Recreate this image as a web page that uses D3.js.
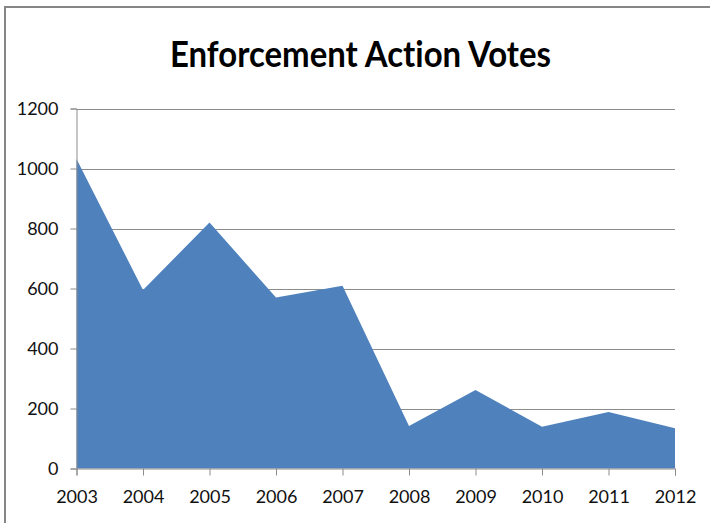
<!DOCTYPE html>
<html>
<head>
<meta charset="utf-8">
<script src="https://cdn.jsdelivr.net/npm/d3@7"></script>
<style>
  html, body { margin: 0; padding: 0; background: #fff; }
  svg { display: block; }
  text { font-variant-ligatures: none; font-feature-settings: "liga" 0; }
</style>
</head>
<body>
<script>
const years = ["2003","2004","2005","2006","2007","2008","2009","2010","2011","2012"];
const votes = [1032, 595, 820, 570, 609, 142, 262, 139, 188, 134];
const yTicks = [0, 200, 400, 600, 800, 1000, 1200];
const title = "Enforcement Action Votes";

const W = 710, H = 523;
const m = { left: 76.5, right: 675, top: 108.5, bottom: 468.5 };

const svg = d3.select("body").append("svg").attr("width", W).attr("height", H);

// outer chart border (only top & left visible)
svg.append("path")
  .attr("d", `M5,${H + 5} L5,7 L${W + 5},7`)
  .attr("fill", "none").attr("stroke", "#868686").attr("stroke-width", 2);

const x = d3.scalePoint().domain(years).range([m.left, m.right]);
const y = d3.scaleLinear().domain([0, 1200]).range([m.bottom, m.top]);

// gridlines
svg.append("g").selectAll("line").data(yTicks.filter(d => d > 0)).join("line")
  .attr("x1", m.left).attr("x2", m.right)
  .attr("y1", d => Math.round(y(d)) + 0.5).attr("y2", d => Math.round(y(d)) + 0.5)
  .attr("stroke", "#8c8c8c").attr("stroke-width", 1);

// area
const area = d3.area()
  .x((d, i) => x(years[i]))
  .y0(y(0)).y1(d => y(d));
svg.append("path").datum(votes).attr("d", area).attr("fill", "#4F81BD");

// y axis
const yAxis = d3.axisLeft(y).tickValues(yTicks).tickSize(6).tickPadding(12).tickFormat(d3.format("d"));
const gy = svg.append("g").attr("transform", `translate(${m.left},0)`).call(yAxis);
gy.select(".domain").attr("stroke", "#8c8c8c");
gy.selectAll(".tick line").attr("stroke", "#8c8c8c");
gy.selectAll(".tick text").attr("font-family", "Lato, 'Open Sans', sans-serif")
  .attr("font-size", 18).attr("fill", "#111");

// x axis
const xAxis = d3.axisBottom(x).tickSize(7).tickPadding(15);
const gx = svg.append("g").attr("transform", `translate(0,${m.bottom})`).call(xAxis);
gx.select(".domain").attr("stroke", "#8c8c8c");
gx.selectAll(".tick line").attr("stroke", "#8c8c8c");
gx.selectAll(".tick text").attr("font-family", "Lato, 'Open Sans', sans-serif")
  .attr("font-size", 18).attr("fill", "#111");

// title
svg.append("text")
  .attr("x", 360.5).attr("y", 66.5)
  .attr("text-anchor", "middle")
  .attr("font-family", "Lato, 'Open Sans', sans-serif")
  .attr("font-weight", "bold").attr("font-size", 37)
  .attr("textLength", 381).attr("lengthAdjust", "spacingAndGlyphs")
  .attr("fill", "#000")
  .text(title);
</script>
</body>
</html>
